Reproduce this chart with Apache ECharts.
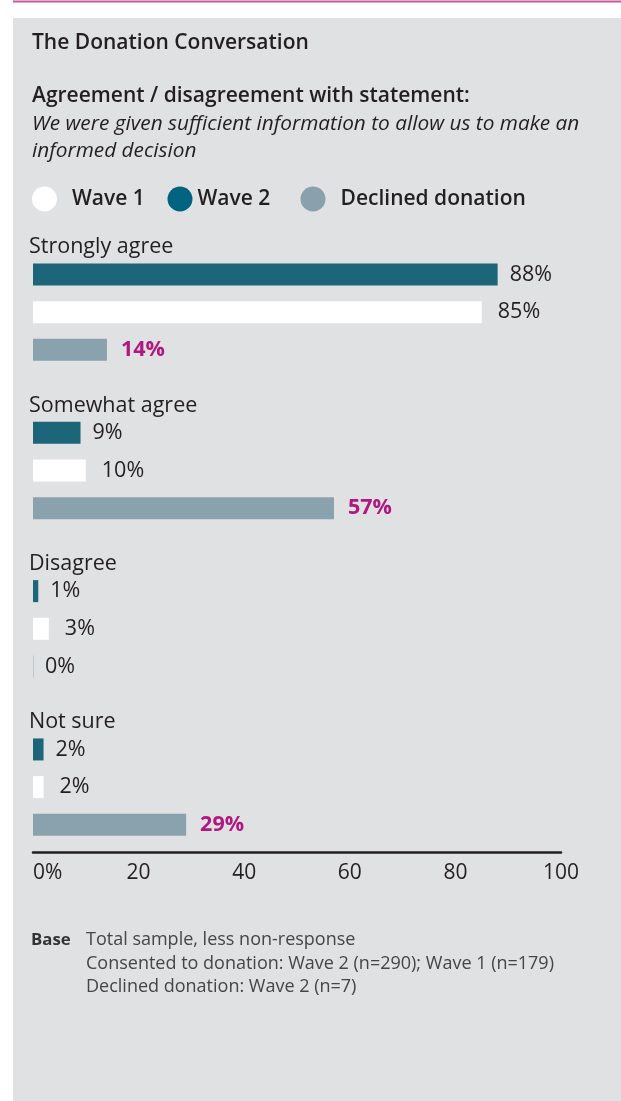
<!DOCTYPE html>
<html>
<head>
<meta charset="utf-8">
<script src="https://cdn.jsdelivr.net/npm/echarts@6/dist/echarts.min.js"></script>
<style>
  html, body { margin: 0; padding: 0; background: #ffffff; }
  #chart { width: 621px; height: 1101px; }
</style>
</head>
<body>
<div id="chart"></div>
<script>
// Response categories (one block of three bars each)
const categories = ['Strongly agree', 'Somewhat agree', 'Disagree', 'Not sure'];
// Percentages per group
const wave2 = [88, 9, 1, 2];
const wave1 = [85, 10, 3, 2];
const declined = [14, 57, 0, 29];
// Axis tick labels (0..100 step 20)
const tickLabels = ['0%', '20', '40', '60', '80', '100'];
// Bar order inside each block, top to bottom
const seriesNames = ['Wave 2', 'Wave 1', 'Declined donation'];

const FONT = '"Open Sans", "Noto Sans", sans-serif';
const INK = '#231f20';
const NOTE = '#454545';
const MAGENTA = '#b0177f';
const barColors = ['#1d6679', '#ffffff', '#8aa1ae'];
const labelGap = [12, 16, 14];

// block layout
const plotLeft = 33, plotWidth = 528;
const firstTop = 255.7, blockStep = 158.3, blockHeight = 113;

const values = [wave2, wave1, declined];

const grids = [], xAxes = [], yAxes = [], series = [], graphics = [];

// panel + top rule
graphics.push({ type: 'rect', shape: { x: 13, y: 18, width: 621 - 13, height: 1101 - 18 }, style: { fill: '#e0e1e3' }, silent: true });
graphics.push({ type: 'rect', shape: { x: 13, y: 0.5, width: 621 - 13, height: 2 }, style: { fill: '#c9579b' }, silent: true });

function txt(x, y, text, font, fill) {
  graphics.push({ type: 'text', x: x, y: y, silent: true,
    style: { text: text, font: font, fill: fill || INK, textVerticalAlign: 'middle', textAlign: 'left' } });
}

txt(32, 43, 'The Donation Conversation', '600 21px ' + FONT);
txt(32, 96, 'Agreement / disagreement with statement:', '600 21px ' + FONT);
txt(32, 124, 'We were given sufficient information to allow us to make an', 'italic 20.8px ' + FONT);
txt(32, 151, 'informed decision', 'italic 20.8px ' + FONT);

// base note
txt(31, 940, 'Base', 'bold 16.8px ' + FONT, '#333333');
txt(86, 940, 'Total sample, less non-response', '18px ' + FONT, NOTE);
txt(86, 963.5, 'Consented to donation: Wave 2 (n=290); Wave 1 (n=179)', '18px ' + FONT, NOTE);
txt(86, 987, 'Declined donation: Wave 2 (n=7)', '18px ' + FONT, NOTE);

categories.forEach(function (cat, g) {
  const top = firstTop + g * blockStep;
  grids.push({ left: plotLeft, width: plotWidth, top: top, height: blockHeight, containLabel: false });
  const last = g === categories.length - 1;
  xAxes.push({
    gridIndex: g, type: 'value', min: 0, max: 100, interval: 20,
    show: last, position: 'bottom', offset: 8.5,
    axisLine: { show: true, lineStyle: { color: INK, width: 2.5 } },
    axisTick: { show: false }, splitLine: { show: false },
    axisLabel: {
      show: true, margin: 10, color: INK, fontFamily: FONT, fontSize: 21,
      alignMinLabel: 'left',
      formatter: function (v) { return tickLabels[Math.round(v / 20)]; }
    }
  });
  yAxes.push({ gridIndex: g, type: 'category', data: seriesNames, inverse: true, show: false });
  txt(29, top - 8.5, cat, '21.5px ' + FONT);

  seriesNames.forEach(function (name, s) {
    const isDeclined = s === 2;
    const data = seriesNames.map(function (_, k) {
      if (k !== s) return '-';
      const v = values[s][g];
      // a zero share is printed in plain ink, like the wave figures
      if (isDeclined && v === 0) {
        return { value: v, label: { fontWeight: 'normal', color: INK, distance: 11 }, itemStyle: { color: '#bcc7cf' } };
      }
      return v;
    });
    series.push({
      type: 'bar', name: name, xAxisIndex: g, yAxisIndex: g,
      data: data, barWidth: 22, barGap: '-100%', barMinHeight: isDeclined ? 1 : 0,
      itemStyle: { color: barColors[s] },
      silent: true,
      label: {
        show: true, position: 'right', distance: labelGap[s],
        fontFamily: FONT, fontSize: 21.5,
        fontWeight: isDeclined ? 'bold' : 'normal',
        color: isDeclined ? MAGENTA : INK,
        formatter: function (p) { return p.value + '%'; }
      }
    });
  });
});

const legendText = { fontFamily: FONT, fontSize: 21, fontWeight: 600, color: INK };
const legends = [
  { left: 32, pad: 10, name: 'Wave 1', color: '#ffffff' },
  { left: 167.5, pad: 0, name: 'Wave 2', color: '#006480' },
  { left: 300.5, pad: 10, name: 'Declined donation', color: '#8aa0ad' }
].map(function (l) {
  return {
    left: l.left, top: 186.5, icon: 'circle', itemWidth: 25, itemHeight: 25,
    selectedMode: false, padding: 0,
    data: [{ name: l.name, itemStyle: { color: l.color } }],
    textStyle: Object.assign({ padding: [0, 0, 0, l.pad] }, legendText)
  };
});

const chart = echarts.init(document.getElementById('chart'), null, { renderer: 'canvas' });
chart.setOption({
  animation: false,
  backgroundColor: '#ffffff',
  graphic: graphics,
  legend: legends,
  grid: grids,
  xAxis: xAxes,
  yAxis: yAxes,
  series: series
});
</script>
</body>
</html>
